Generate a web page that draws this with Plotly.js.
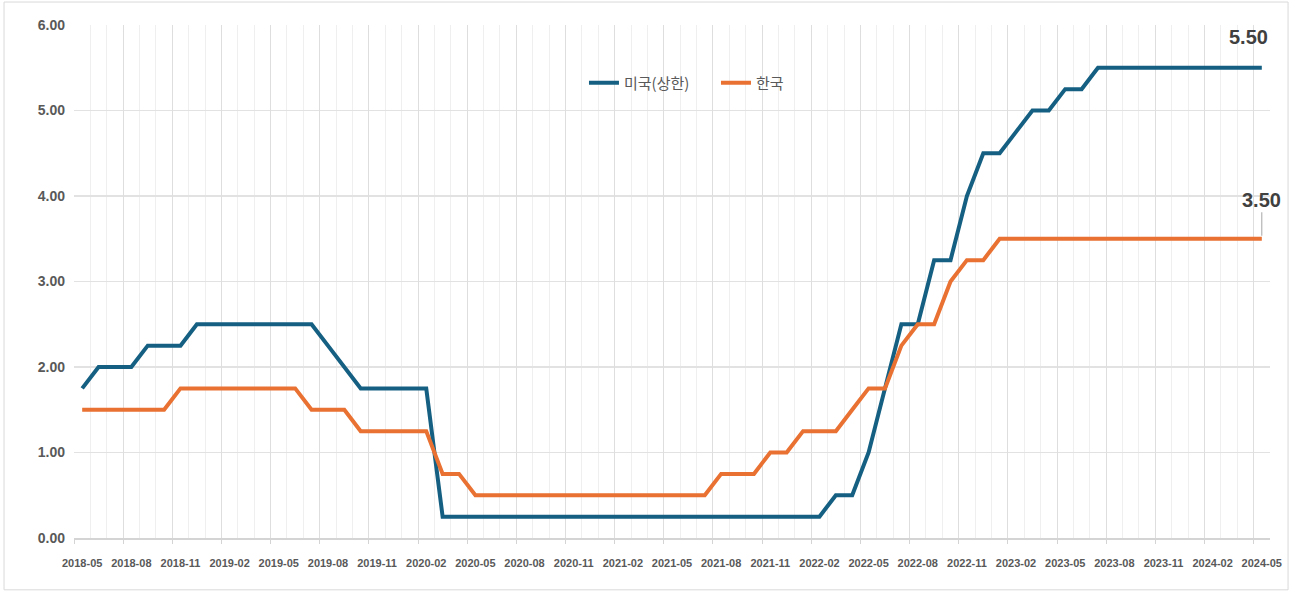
<!DOCTYPE html>
<html>
<head>
<meta charset="utf-8">
<script src="https://cdn.plot.ly/plotly-3.0.1.min.js"></script>
<style>
html,body{margin:0;padding:0;background:#fff;}
#chart{width:1294px;height:591px;}
</style>
</head>
<body>
<div id="chart"></div>
<script>
const months = [
  "2018-05","2018-06","2018-07","2018-08","2018-09","2018-10","2018-11","2018-12",
  "2019-01","2019-02","2019-03","2019-04","2019-05","2019-06","2019-07","2019-08","2019-09","2019-10","2019-11","2019-12",
  "2020-01","2020-02","2020-03","2020-04","2020-05","2020-06","2020-07","2020-08","2020-09","2020-10","2020-11","2020-12",
  "2021-01","2021-02","2021-03","2021-04","2021-05","2021-06","2021-07","2021-08","2021-09","2021-10","2021-11","2021-12",
  "2022-01","2022-02","2022-03","2022-04","2022-05","2022-06","2022-07","2022-08","2022-09","2022-10","2022-11","2022-12",
  "2023-01","2023-02","2023-03","2023-04","2023-05","2023-06","2023-07","2023-08","2023-09","2023-10","2023-11","2023-12",
  "2024-01","2024-02","2024-03","2024-04","2024-05"
];
const usRate = [
  1.75,2.00,2.00,2.00,2.25,2.25,2.25,2.50,
  2.50,2.50,2.50,2.50,2.50,2.50,2.50,2.25,2.00,1.75,1.75,1.75,
  1.75,1.75,0.25,0.25,0.25,0.25,0.25,0.25,0.25,0.25,0.25,0.25,
  0.25,0.25,0.25,0.25,0.25,0.25,0.25,0.25,0.25,0.25,0.25,0.25,
  0.25,0.25,0.50,0.50,1.00,1.75,2.50,2.50,3.25,3.25,4.00,4.50,
  4.50,4.75,5.00,5.00,5.25,5.25,5.50,5.50,5.50,5.50,5.50,5.50,
  5.50,5.50,5.50,5.50,5.50
];
const krRate = [
  1.50,1.50,1.50,1.50,1.50,1.50,1.75,1.75,
  1.75,1.75,1.75,1.75,1.75,1.75,1.50,1.50,1.50,1.25,1.25,1.25,
  1.25,1.25,0.75,0.75,0.50,0.50,0.50,0.50,0.50,0.50,0.50,0.50,
  0.50,0.50,0.50,0.50,0.50,0.50,0.50,0.75,0.75,0.75,1.00,1.00,
  1.25,1.25,1.25,1.50,1.75,1.75,2.25,2.50,2.50,3.00,3.25,3.25,
  3.50,3.50,3.50,3.50,3.50,3.50,3.50,3.50,3.50,3.50,3.50,3.50,
  3.50,3.50,3.50,3.50,3.50
];
const seriesNames = ["미국(상한)", "한국"];
const tickLabels = months.filter((m, i) => i % 3 === 0);

const narrow = "'Liberation Sans', Arial, sans-serif";
const lastIdx = months.length - 1;

const traces = [
  {x: [], y: [], type: "scatter", mode: "lines", xaxis: "x2", yaxis: "y", showlegend: false, hoverinfo: "skip"},
  {x: months, y: usRate, name: seriesNames[0], type: "scatter", mode: "lines",
   line: {color: "#156082", width: 4}, xaxis: "x", yaxis: "y"},
  {x: months, y: krRate, name: seriesNames[1], type: "scatter", mode: "lines",
   line: {color: "#E97132", width: 4}, xaxis: "x", yaxis: "y"}
];

const layout = {
  width: 1294, height: 591,
  margin: {l: 74, r: 24, t: 25, b: 53},
  paper_bgcolor: "#ffffff", plot_bgcolor: "#ffffff",
  showlegend: true,
  legend: {orientation: "h", x: 0.4264, xanchor: "left", y: 0.887, yanchor: "middle",
    entrywidth: 87, entrywidthmode: "pixels",
    font: {family: "'Noto Sans CJK KR', sans-serif", size: 15, color: "#595959"},
    bgcolor: "rgba(0,0,0,0)"},
  xaxis: {type: "category", range: [-0.5, lastIdx + 0.5], tickmode: "array", tickvals: tickLabels, ticktext: tickLabels,
    showgrid: false, zeroline: false, showline: true, linecolor: "#d4d4d4", linewidth: 2,
    ticks: "", tickangle: 0, ticklabelstandoff: 14,
    tickfont: {family: narrow, size: 11, color: "#595959", weight: "bold"}},
  xaxis2: {type: "linear", overlaying: "x", anchor: "y", side: "bottom", range: [-0.5, lastIdx + 0.5],
    tickmode: "linear", tick0: -0.5, dtick: 3, showgrid: true, gridcolor: "#dedede", gridwidth: 1,
    showticklabels: false, ticks: "outside", ticklen: 5, tickcolor: "#d4d4d4", tickwidth: 1,
    zeroline: false, showline: false,
    minor: {tick0: -0.5, dtick: 1, showgrid: true, gridcolor: "#efefef", gridwidth: 1, ticks: ""}},
  yaxis: {range: [0, 6], dtick: 1, tickformat: ".2f", showgrid: true, gridcolor: "#e2e2e2", gridwidth: 1.5,
    zeroline: false, showline: false, ticks: "", ticklabelstandoff: 8,
    tickfont: {family: narrow, size: 14, color: "#595959", weight: "bold"}},
  annotations: [
    {x: months[lastIdx], y: usRate[lastIdx], xref: "x", yref: "y", text: usRate[lastIdx].toFixed(2),
     showarrow: false, xshift: -13, yshift: 31,
     font: {family: narrow, size: 20, color: "#404040", weight: "bold"}},
    {x: months[lastIdx], y: krRate[lastIdx], xref: "x", yref: "y", text: krRate[lastIdx].toFixed(2),
     showarrow: true, ax: 0, ay: -39, arrowhead: 0, arrowwidth: 1, arrowcolor: "#a6a6a6", standoff: 3,
     font: {family: narrow, size: 20, color: "#404040", weight: "bold"}}
  ],
  shapes: [
    {type: "rect", xref: "paper", yref: "paper", x0: -0.0585, x1: 1.0151, y0: -0.101, y1: 1.0448,
     line: {color: "#d9d9d9", width: 1}, fillcolor: "rgba(0,0,0,0)", layer: "below"}
  ]
};

Plotly.newPlot("chart", traces, layout, {displayModeBar: false, staticPlot: true});
</script>
</body>
</html>
